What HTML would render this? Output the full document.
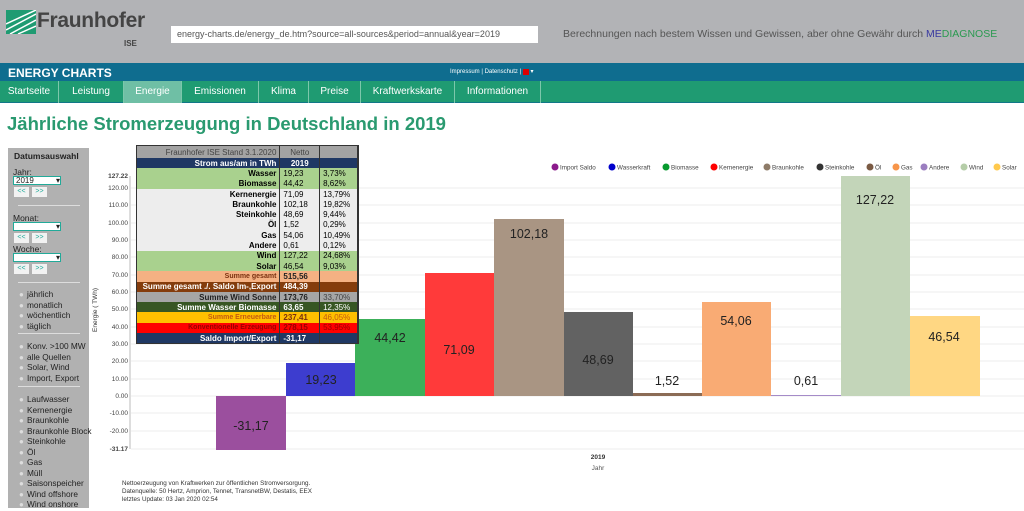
<!DOCTYPE html>
<html><head><meta charset="utf-8"><style>
*{margin:0;padding:0;box-sizing:border-box}
body{width:1024px;height:508px;overflow:hidden;background:#fff;font-family:"Liberation Sans",Arial,sans-serif;position:relative}
.a{position:absolute}
#top{left:0;top:0;width:1024px;height:63px;background:#b2b3b6}
#blue{left:0;top:63px;width:1024px;height:18px;background:#0f6d8f;color:#fff;font-weight:bold;font-size:12px;padding:3px 8px}
#nav{left:0;top:81px;width:1024px;height:22px;background:#1f9b72;border-bottom:1px solid #178}
#nav span{position:absolute;top:0;height:22px;line-height:21px;color:#fff;font-size:10px;text-align:center;border-right:1px solid #7cc7ab}
table{border-collapse:collapse;font-size:8px;font-weight:bold}
td{height:10.3px;line-height:9px;padding:0 3px;border-right:1px solid #333;white-space:nowrap}
.r{text-align:right}
#side{left:8px;top:148px;width:81px;height:360px;background:#b1b1b1;font-size:8.5px;color:#222}
#side div{position:absolute}
.sel{width:48px;height:9px;background:#fff;border:1px solid #2a9;font-size:8px;line-height:8px;padding-left:2px}
.btn{width:15px;height:10px;background:#f2f2f2;font-size:7px;color:#2a9;text-align:center;line-height:10px}
.rad{width:5px;height:5px;border-radius:50%;background:#ddd}
hr{position:absolute;border:0;border-top:1px solid #ddd;width:62px}
.rl{left:19px;line-height:10.5px;white-space:nowrap;font-size:8.3px}
</style></head><body>
<div class="a" id="top">
 <svg class="a" style="left:6px;top:10px" width="30" height="24"><rect width="30" height="24" fill="#1f9b72"/><path d="M0 20 L30 4 M0 14 L30 0 M4 24 L30 10 M12 24 L30 16" stroke="#fff" stroke-width="1.5"/></svg>
 <div class="a" style="left:37px;top:9px;font-size:21px;font-weight:bold;color:#444;letter-spacing:-0.3px">Fraunhofer</div>
 <div class="a" style="left:124px;top:39px;font-size:8px;font-weight:bold;color:#444">ISE</div>
 <div class="a" style="left:171px;top:26px;width:367px;height:17px;background:#fff;font-size:9px;color:#555;padding:3px 6px;white-space:nowrap;overflow:hidden">energy-charts.de/energy_de.htm?source=all-sources&amp;period=annual&amp;year=2019</div>
 <div class="a" style="left:563px;top:28px;font-size:10.5px;color:#555">Berechnungen nach bestem Wissen und Gewissen, aber ohne Gewähr durch <span style="color:#3a3aa0">ME</span><span style="color:#2a9a50">DIAGNOSE</span></div>
</div>
<div class="a" id="blue">ENERGY CHARTS<span style="position:absolute;left:450px;top:5px;font-size:6px;font-weight:normal">Impressum | Datenschutz | <span style="background:#d00;color:#d00">▬</span> ▾</span></div>
<div class="a" id="nav">
<span style="left:0;width:59px">Startseite</span><span style="left:59px;width:65px">Leistung</span><span style="left:124px;width:58px;background:#6fbfa5">Energie</span><span style="left:182px;width:77px">Emissionen</span><span style="left:259px;width:50px">Klima</span><span style="left:309px;width:52px">Preise</span><span style="left:361px;width:94px">Kraftwerkskarte</span><span style="left:455px;width:86px">Informationen</span>
</div>
<div class="a" style="left:7px;top:113px;font-size:18.5px;font-weight:bold;color:#2a9a70">Jährliche Stromerzeugung in Deutschland in 2019</div>

<div class="a" id="side">
<div style="left:6px;top:3px;font-weight:bold">Datumsauswahl</div>
<div style="left:5px;top:19px">Jahr:</div>
<div class="sel" style="left:5px;top:28px">2019 <span style="float:right">▾</span></div>
<div class="btn" style="left:6px;top:39px">&lt;&lt;</div><div class="btn" style="left:24px;top:39px">&gt;&gt;</div>
<hr style="left:10px;top:57px">
<div style="left:5px;top:65px">Monat:</div>
<div class="sel" style="left:5px;top:74px"><span style="float:right">▾</span></div>
<div class="btn" style="left:6px;top:85px">&lt;&lt;</div><div class="btn" style="left:24px;top:85px">&gt;&gt;</div>
<div style="left:5px;top:96px">Woche:</div>
<div class="sel" style="left:5px;top:105px"><span style="float:right">▾</span></div>
<div class="btn" style="left:6px;top:116px">&lt;&lt;</div><div class="btn" style="left:24px;top:116px">&gt;&gt;</div>
<hr style="left:10px;top:134px">
<div class="rl" style="top:141px">jährlich<br>monatlich<br>wöchentlich<br>täglich</div>
<hr style="left:10px;top:185px">
<div class="rl" style="top:193px">Konv. &gt;100 MW<br>alle Quellen<br>Solar, Wind<br>Import, Export</div>
<hr style="left:10px;top:238px">
<div class="rl" style="top:246px">Laufwasser<br>Kernenergie<br>Braunkohle<br>Braunkohle Block<br>Steinkohle<br>Öl<br>Gas<br>Müll<br>Saisonspeicher<br>Wind offshore<br>Wind onshore</div>
<div style="left:11px;top:142px;line-height:10.5px;color:#ddd;font-size:8px">●<br>●<br>●<br>●</div>
<div style="left:11px;top:194px;line-height:10.5px;color:#ddd;font-size:8px">●<br>●<br>●<br>●</div>
<div style="left:11px;top:247px;line-height:10.5px;color:#ddd;font-size:8px">●<br>●<br>●<br>●<br>●<br>●<br>●<br>●<br>●<br>●<br>●</div>
</div>

<svg class="a" style="left:0;top:0" width="1024" height="508" font-family="Liberation Sans, Arial, sans-serif">
<g stroke="#ececec" stroke-width="1">
<line x1="131" x2="1024" y1="188" y2="188"/><line x1="131" x2="1024" y1="205" y2="205"/><line x1="131" x2="1024" y1="223" y2="223"/><line x1="131" x2="1024" y1="240" y2="240"/><line x1="131" x2="1024" y1="257" y2="257"/><line x1="131" x2="1024" y1="275" y2="275"/><line x1="131" x2="1024" y1="292" y2="292"/><line x1="131" x2="1024" y1="309" y2="309"/><line x1="131" x2="1024" y1="327" y2="327"/><line x1="131" x2="1024" y1="344" y2="344"/><line x1="131" x2="1024" y1="361" y2="361"/><line x1="131" x2="1024" y1="379" y2="379"/><line x1="131" x2="1024" y1="396" y2="396"/><line x1="131" x2="1024" y1="413" y2="413"/><line x1="131" x2="1024" y1="431" y2="431"/><line x1="131" x2="1024" y1="449" y2="449"/>
</g>
<line x1="130" x2="130" y1="176" y2="449" stroke="#bbb"/>
<g font-size="6.5" fill="#444" text-anchor="end">
<text x="128" y="178" font-weight="bold">127.22</text><text x="128" y="190">120.00</text><text x="128" y="207">110.00</text><text x="128" y="225">100.00</text><text x="128" y="242">90.00</text><text x="128" y="259">80.00</text><text x="128" y="277">70.00</text><text x="128" y="294">60.00</text><text x="128" y="311">50.00</text><text x="128" y="329">40.00</text><text x="128" y="346">30.00</text><text x="128" y="363">20.00</text><text x="128" y="381">10.00</text><text x="128" y="398">0.00</text><text x="128" y="415">-10.00</text><text x="128" y="433">-20.00</text><text x="128" y="451" font-weight="bold">-31.17</text>
</g>
<text transform="translate(97,310) rotate(-90)" font-size="6.5" fill="#333" text-anchor="middle">Energie ( TWh)</text>
<rect x="216" y="396" width="70" height="54" fill="#9b4f9e"/>
<rect x="286" y="363" width="69" height="33" fill="#3d3dcf"/>
<rect x="355" y="319" width="70" height="77" fill="#3cb05a"/>
<rect x="425" y="273" width="69" height="123" fill="#ff3a3a"/>
<rect x="494" y="219" width="70" height="177" fill="#a99583"/>
<rect x="564" y="312" width="69" height="84" fill="#626262"/>
<rect x="633" y="393" width="69" height="3" fill="#8b6b55"/>
<rect x="702" y="302" width="69" height="94" fill="#f9ab74"/>
<rect x="771" y="395" width="70" height="1" fill="#a58bc8"/>
<rect x="841" y="176" width="69" height="220" fill="#c3d5b9"/>
<rect x="910" y="316" width="70" height="80" fill="#ffd783"/>
<g font-size="12.5" fill="#222" text-anchor="middle">
<text x="251" y="430">-31,17</text><text x="321" y="384">19,23</text><text x="390" y="342">44,42</text><text x="459" y="354">71,09</text><text x="529" y="238">102,18</text><text x="598" y="364">48,69</text><text x="667" y="385">1,52</text><text x="736" y="325">54,06</text><text x="806" y="385">0,61</text><text x="875" y="204">127,22</text><text x="944" y="341">46,54</text>
</g>
<text x="598" y="459" font-size="6.5" font-weight="bold" fill="#333" text-anchor="middle">2019</text>
<text x="598" y="470" font-size="6.5" fill="#555" text-anchor="middle">Jahr</text>
<g font-size="6.3" fill="#333"><text x="122" y="485">Nettoerzeugung von Kraftwerken zur öffentlichen Stromversorgung.</text><text x="122" y="493">Datenquelle: 50 Hertz, Amprion, Tennet, TransnetBW, Destatis, EEX</text><text x="122" y="501">letztes Update: 03 Jan 2020 02:54</text></g>
<g font-size="6.3" fill="#444">
<circle cx="555" cy="167" r="3.5" fill="#8b1a8b"/><text x="560" y="169.5">Import Saldo</text>
<circle cx="612" cy="167" r="3.5" fill="#0000cc"/><text x="617" y="169.5">Wasserkraft</text>
<circle cx="666" cy="167" r="3.5" fill="#079a2f"/><text x="671" y="169.5">Biomasse</text>
<circle cx="714" cy="167" r="3.5" fill="#f00"/><text x="719" y="169.5">Kernenergie</text>
<circle cx="767" cy="167" r="3.5" fill="#8e7b68"/><text x="772" y="169.5">Braunkohle</text>
<circle cx="820" cy="167" r="3.5" fill="#333"/><text x="825" y="169.5">Steinkohle</text>
<circle cx="870" cy="167" r="3.5" fill="#7a5a44"/><text x="875" y="169.5">Öl</text>
<circle cx="896" cy="167" r="3.5" fill="#f7954a"/><text x="901" y="169.5">Gas</text>
<circle cx="924" cy="167" r="3.5" fill="#9b7ec0"/><text x="929" y="169.5">Andere</text>
<circle cx="964" cy="167" r="3.5" fill="#b5cda8"/><text x="969" y="169.5">Wind</text>
<circle cx="997" cy="167" r="3.5" fill="#ffc94d"/><text x="1002" y="169.5">Solar</text>
</g>
</svg>

<div class="a" style="left:136px;top:145px;border:1px solid #333">
<table style="width:221px">
<tr style="background:#a3a3a3;color:#444;font-weight:normal"><td class="r" style="width:143px;height:12px;font-weight:normal">Fraunhofer ISE Stand 3.1.2020</td><td style="width:40px;text-align:center;font-weight:normal">Netto</td><td style="width:38px"></td></tr>
<tr style="background:#1f3864;color:#fff"><td class="r">Strom aus/am in TWh</td><td style="text-align:center">2019</td><td></td></tr>
<tr style="background:#a9d18e"><td class="r">Wasser</td><td style="font-weight:normal">19,23</td><td style="font-weight:normal">3,73%</td></tr>
<tr style="background:#a9d18e"><td class="r">Biomasse</td><td style="font-weight:normal">44,42</td><td style="font-weight:normal">8,62%</td></tr>
<tr style="background:#ededed"><td class="r">Kernenergie</td><td style="font-weight:normal">71,09</td><td style="font-weight:normal">13,79%</td></tr>
<tr style="background:#ededed"><td class="r">Braunkohle</td><td style="font-weight:normal">102,18</td><td style="font-weight:normal">19,82%</td></tr>
<tr style="background:#ededed"><td class="r">Steinkohle</td><td style="font-weight:normal">48,69</td><td style="font-weight:normal">9,44%</td></tr>
<tr style="background:#ededed"><td class="r">Öl</td><td style="font-weight:normal">1,52</td><td style="font-weight:normal">0,29%</td></tr>
<tr style="background:#ededed"><td class="r">Gas</td><td style="font-weight:normal">54,06</td><td style="font-weight:normal">10,49%</td></tr>
<tr style="background:#ededed"><td class="r">Andere</td><td style="font-weight:normal">0,61</td><td style="font-weight:normal">0,12%</td></tr>
<tr style="background:#a9d18e"><td class="r">Wind</td><td style="font-weight:normal">127,22</td><td style="font-weight:normal">24,68%</td></tr>
<tr style="background:#a9d18e"><td class="r">Solar</td><td style="font-weight:normal">46,54</td><td style="font-weight:normal">9,03%</td></tr>
<tr style="background:#f4b183;color:#7a3010"><td class="r" style="font-size:7px">Summe gesamt</td><td style="color:#222">515,56</td><td></td></tr>
<tr style="background:#843c0c;color:#fff"><td class="r">Summe gesamt ./. Saldo Im-,Export</td><td>484,39</td><td></td></tr>
<tr style="background:#a6a6a6;color:#222"><td class="r">Summe Wind Sonne</td><td>173,76</td><td style="font-weight:normal;color:#444">33,70%</td></tr>
<tr style="background:#375623;color:#fff"><td class="r">Summe Wasser Biomasse</td><td>63,65</td><td style="font-weight:normal">12,35%</td></tr>
<tr style="background:#ffc000;color:#c55a11"><td class="r" style="font-size:7px">Summe Erneuerbare</td><td style="color:#7a3010">237,41</td><td style="font-weight:normal">46,05%</td></tr>
<tr style="background:#ff0000;color:#900"><td class="r" style="font-size:7px">Konventionelle Erzeugung</td><td>278,15</td><td style="font-weight:normal">53,95%</td></tr>
<tr style="background:#1f3864;color:#fff"><td class="r">Saldo Import/Export</td><td>-31,17</td><td></td></tr>
</table></div>
</body></html>
